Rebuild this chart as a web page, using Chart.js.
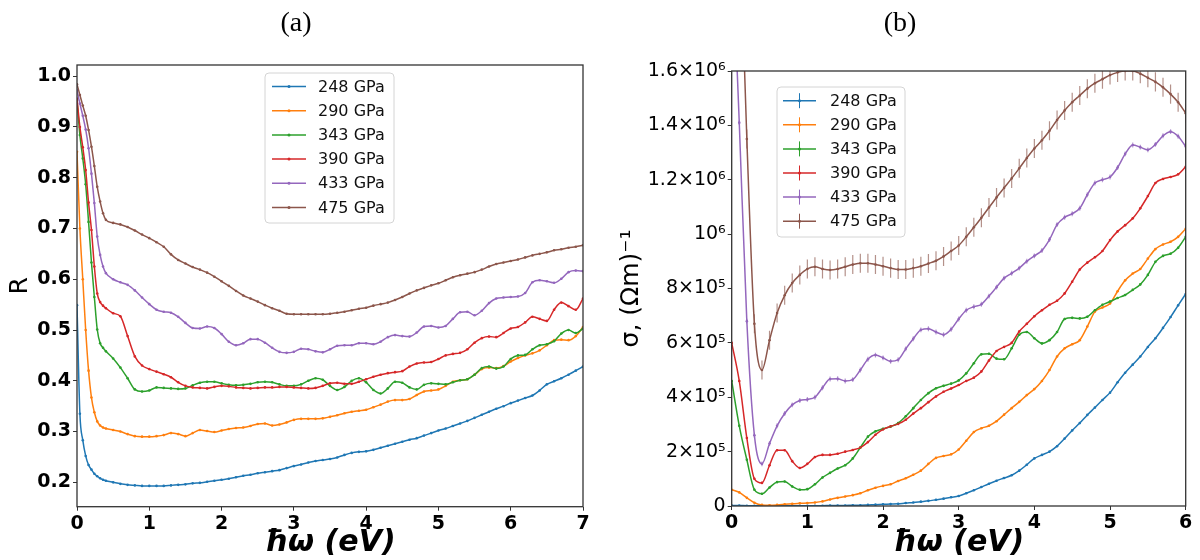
<!DOCTYPE html>
<html>
<head>
<meta charset="utf-8">
<script src="https://cdn.jsdelivr.net/npm/chart.js@4"></script>
<style>
  html, body { margin: 0; padding: 0; background: #fff; }
  #wrap { position: relative; width: 1200px; height: 560px; }
  .panel { position: absolute; top: 0; width: 600px; height: 560px; }
</style>
</head>
<body>
<div id="wrap">
  <div class="panel" style="left:0"><canvas id="chartA" width="600" height="560"></canvas></div>
  <div class="panel" style="left:600px"><canvas id="chartB" width="600" height="560"></canvas></div>
</div>
<script>
// ---- data ----
const pressures = ['248 GPa', '290 GPa', '343 GPa', '390 GPa', '433 GPa', '475 GPa'];
const colors = ['#1f77b4', '#ff7f0e', '#2ca02c', '#d62728', '#9467bd', '#8c564b'];

// panel (a): reflectivity R vs photon energy (eV)
const energyA = [0, 0.04, 0.08, 0.12, 0.16, 0.2, 0.24, 0.28, 0.32, 0.36, 0.4,
  0.5, 0.6, 0.7, 0.8, 0.9, 1.0, 1.1, 1.2, 1.3, 1.4,
  1.5, 1.6, 1.7, 1.8, 1.9, 2.0, 2.1, 2.2, 2.3, 2.4,
  2.5, 2.6, 2.7, 2.8, 2.9, 3.0, 3.1, 3.2, 3.3, 3.4,
  3.5, 3.6, 3.7, 3.8, 3.9, 4.0, 4.1, 4.2, 4.3, 4.4,
  4.5, 4.6, 4.7, 4.8, 4.9, 5.0, 5.1, 5.2, 5.3, 5.4,
  5.5, 5.6, 5.7, 5.8, 5.9, 6.0, 6.1, 6.2, 6.3, 6.4,
  6.5, 6.6, 6.7, 6.8, 6.9, 7.0];

const r248 = [0.549, 0.335, 0.283, 0.252, 0.234, 0.225, 0.217, 0.212, 0.208, 0.205, 0.203,
  0.200, 0.197, 0.195, 0.194, 0.193, 0.193, 0.193, 0.193, 0.194, 0.195,
  0.196, 0.198, 0.199, 0.201, 0.203, 0.205, 0.207, 0.210, 0.213, 0.215,
  0.218, 0.220, 0.222, 0.224, 0.228, 0.232, 0.235, 0.239, 0.242, 0.244,
  0.246, 0.249, 0.254, 0.258, 0.260, 0.261, 0.264, 0.268, 0.272, 0.276,
  0.280, 0.284, 0.287, 0.292, 0.297, 0.302, 0.306, 0.311, 0.316, 0.321,
  0.327, 0.333, 0.339, 0.345, 0.350, 0.356, 0.361, 0.366, 0.371, 0.381,
  0.393, 0.399, 0.405, 0.412, 0.420, 0.428];
const r290 = [0.851, 0.700, 0.600, 0.500, 0.420, 0.367, 0.338, 0.320, 0.312, 0.308, 0.306,
  0.303, 0.300, 0.295, 0.291, 0.290, 0.290, 0.291, 0.293, 0.297, 0.295,
  0.291, 0.297, 0.303, 0.301, 0.299, 0.302, 0.305, 0.307, 0.308, 0.311,
  0.315, 0.316, 0.312, 0.314, 0.318, 0.323, 0.325, 0.325, 0.325, 0.326,
  0.329, 0.332, 0.336, 0.339, 0.341, 0.343, 0.348, 0.353, 0.359, 0.362,
  0.362, 0.364, 0.372, 0.379, 0.381, 0.383, 0.390, 0.398, 0.401, 0.403,
  0.412, 0.423, 0.426, 0.425, 0.429, 0.438, 0.445, 0.450, 0.454, 0.460,
  0.470, 0.480, 0.481, 0.480, 0.488, 0.506];
const r343 = [0.953, 0.884, 0.838, 0.787, 0.713, 0.633, 0.565, 0.501, 0.474, 0.465, 0.458,
  0.444, 0.426, 0.405, 0.383, 0.379, 0.381, 0.387, 0.386, 0.385, 0.384,
  0.385, 0.391, 0.396, 0.398, 0.398, 0.395, 0.392, 0.391, 0.392, 0.394,
  0.397, 0.398, 0.397, 0.393, 0.390, 0.390, 0.393, 0.400, 0.405, 0.402,
  0.390, 0.382, 0.388, 0.400, 0.405, 0.397, 0.382, 0.375, 0.385, 0.398,
  0.396, 0.387, 0.383, 0.392, 0.395, 0.394, 0.393, 0.397, 0.401, 0.403,
  0.412, 0.425, 0.428, 0.424, 0.428, 0.443, 0.450, 0.451, 0.462, 0.470,
  0.472, 0.478, 0.493, 0.500, 0.494, 0.503];
const r390 = [0.956, 0.900, 0.860, 0.815, 0.751, 0.697, 0.625, 0.572, 0.555, 0.548, 0.543,
  0.533, 0.527, 0.488, 0.448, 0.430, 0.423, 0.418, 0.413, 0.407, 0.397,
  0.390, 0.387, 0.386, 0.385, 0.388, 0.390, 0.389, 0.387, 0.386, 0.385,
  0.386, 0.387, 0.387, 0.388, 0.388, 0.387, 0.386, 0.385, 0.386, 0.390,
  0.395, 0.396, 0.394, 0.394, 0.398, 0.403, 0.408, 0.412, 0.415, 0.417,
  0.419, 0.428, 0.434, 0.436, 0.437, 0.443, 0.450, 0.453, 0.455, 0.462,
  0.475, 0.484, 0.487, 0.486, 0.494, 0.503, 0.506, 0.515, 0.526, 0.522,
  0.518, 0.540, 0.554, 0.547, 0.540, 0.562];
const r433 = [0.972, 0.946, 0.922, 0.895, 0.858, 0.808, 0.750, 0.684, 0.648, 0.625, 0.612,
  0.600, 0.594, 0.589, 0.578, 0.564, 0.551, 0.540, 0.536, 0.534, 0.526,
  0.514, 0.504, 0.503, 0.507, 0.504, 0.492, 0.477, 0.470, 0.474, 0.482,
  0.482, 0.475, 0.465, 0.457, 0.455, 0.457, 0.463, 0.462, 0.458, 0.456,
  0.462, 0.469, 0.470, 0.470, 0.474, 0.474, 0.472, 0.477, 0.486, 0.490,
  0.488, 0.487, 0.495, 0.507, 0.508, 0.505, 0.508, 0.522, 0.535, 0.536,
  0.529, 0.538, 0.553, 0.562, 0.564, 0.565, 0.566, 0.573, 0.594, 0.598,
  0.596, 0.593, 0.601, 0.614, 0.617, 0.616];
const r475 = [0.984, 0.963, 0.942, 0.922, 0.894, 0.861, 0.823, 0.782, 0.753, 0.730, 0.717,
  0.711, 0.708, 0.703, 0.696, 0.688, 0.681, 0.673, 0.664, 0.649, 0.638,
  0.631, 0.624, 0.619, 0.613, 0.605, 0.596, 0.587, 0.577, 0.568, 0.562,
  0.556, 0.549, 0.543, 0.538, 0.532, 0.531, 0.531, 0.531, 0.531, 0.531,
  0.532, 0.534, 0.536, 0.539, 0.542, 0.544, 0.548, 0.551, 0.554, 0.559,
  0.565, 0.572, 0.578, 0.583, 0.588, 0.592, 0.598, 0.604, 0.608, 0.611,
  0.614, 0.619, 0.625, 0.630, 0.633, 0.636, 0.639, 0.643, 0.647, 0.650,
  0.653, 0.657, 0.659, 0.662, 0.664, 0.667];

// panel (b): conductivity sigma, in units of 1e5 (Ohm m)^-1
const energyB = [0, 0.1, 0.2, 0.3, 0.4, 0.5, 0.6, 0.7, 0.8, 0.9,
  1.0, 1.1, 1.2, 1.3, 1.4, 1.5, 1.6, 1.7, 1.8, 1.9,
  2.0, 2.1, 2.2, 2.3, 2.4, 2.5, 2.6, 2.7, 2.8, 2.9,
  3.0, 3.1, 3.2, 3.3, 3.4, 3.5, 3.6, 3.7, 3.8, 3.9,
  4.0, 4.1, 4.2, 4.3, 4.4, 4.5, 4.6, 4.7, 4.8, 4.9,
  5.0, 5.1, 5.2, 5.3, 5.4, 5.5, 5.6, 5.7, 5.8, 5.9,
  6.0];

const s248 = [0.02, 0.02, 0.01, 0.01, 0.01, 0.01, 0.01, 0.01, 0.01, 0.01,
  0.01, 0.01, 0.01, 0.02, 0.02, 0.02, 0.03, 0.03, 0.04, 0.05,
  0.06, 0.07, 0.08, 0.11, 0.13, 0.16, 0.19, 0.23, 0.27, 0.32,
  0.37, 0.47, 0.58, 0.70, 0.82, 0.93, 1.03, 1.13, 1.30, 1.52,
  1.75, 1.88, 2.00, 2.20, 2.48, 2.78, 3.05, 3.35, 3.62, 3.90,
  4.17, 4.55, 4.90, 5.20, 5.50, 5.85, 6.17, 6.55, 6.95, 7.38,
  7.80];
const s290 = [0.60, 0.50, 0.30, 0.12, 0.04, 0.03, 0.04, 0.06, 0.08, 0.10,
  0.11, 0.13, 0.17, 0.24, 0.30, 0.35, 0.40, 0.47, 0.58, 0.67,
  0.74, 0.80, 0.92, 1.02, 1.15, 1.30, 1.55, 1.77, 1.84, 1.90,
  2.08, 2.40, 2.72, 2.86, 2.95, 3.12, 3.36, 3.60, 3.83, 4.08,
  4.30, 4.60, 5.00, 5.50, 5.80, 5.95, 6.10, 6.60, 7.15, 7.30,
  7.45, 7.90, 8.30, 8.55, 8.72, 9.10, 9.45, 9.62, 9.72, 9.90,
  10.20];
const s343 = [4.60, 2.95, 1.70, 0.60, 0.45, 0.68, 0.88, 0.90, 0.72, 0.60,
  0.62, 0.80, 1.05, 1.22, 1.38, 1.50, 1.75, 2.15, 2.55, 2.75,
  2.84, 2.92, 3.05, 3.30, 3.60, 3.90, 4.15, 4.33, 4.42, 4.50,
  4.62, 4.88, 5.25, 5.58, 5.60, 5.42, 5.40, 5.80, 6.30, 6.40,
  6.17, 5.98, 6.10, 6.40, 6.88, 6.92, 6.90, 6.96, 7.20, 7.40,
  7.52, 7.65, 7.76, 7.95, 8.15, 8.50, 8.98, 9.20, 9.28, 9.50,
  9.90];
const s390 = [6.00, 4.60, 2.50, 1.00, 0.85, 1.50, 2.05, 2.05, 1.65, 1.40,
  1.55, 1.80, 1.88, 1.88, 1.92, 2.00, 2.06, 2.15, 2.35, 2.62,
  2.82, 2.93, 3.02, 3.17, 3.40, 3.60, 3.82, 4.03, 4.20, 4.32,
  4.45, 4.60, 4.72, 4.95, 5.35, 5.70, 5.85, 6.00, 6.42, 6.70,
  6.98, 7.20, 7.40, 7.55, 7.82, 8.25, 8.70, 8.95, 9.15, 9.38,
  9.78, 10.10, 10.33, 10.58, 10.95, 11.40, 11.88, 12.03, 12.10, 12.20,
  12.48];
const s433 = [21.0, 14.1, 6.80, 2.60, 1.55, 2.30, 2.95, 3.40, 3.72, 3.88,
  3.92, 4.00, 4.35, 4.67, 4.68, 4.60, 4.65, 5.00, 5.40, 5.55,
  5.45, 5.32, 5.38, 5.78, 6.15, 6.48, 6.52, 6.40, 6.30, 6.50,
  6.88, 7.20, 7.33, 7.42, 7.72, 8.05, 8.38, 8.56, 8.75, 9.00,
  9.20, 9.40, 9.80, 10.35, 10.62, 10.75, 10.95, 11.45, 11.88, 12.00,
  12.10, 12.45, 12.95, 13.28, 13.20, 13.10, 13.30, 13.62, 13.77, 13.60,
  13.22];
const s475 = [30.0, 22.0, 13.5, 6.70, 5.00, 6.10, 7.10, 7.75, 8.20, 8.50,
  8.72, 8.80, 8.72, 8.68, 8.72, 8.80, 8.88, 8.93, 8.93, 8.88,
  8.82, 8.75, 8.70, 8.70, 8.75, 8.82, 8.92, 9.02, 9.18, 9.38,
  9.58, 9.90, 10.25, 10.60, 10.98, 11.35, 11.70, 12.05, 12.42, 12.80,
  13.15, 13.45, 13.80, 14.20, 14.55, 14.85, 15.10, 15.35, 15.55, 15.70,
  15.85, 15.95, 16.00, 16.00, 15.90, 15.75, 15.60, 15.40, 15.15, 14.85,
  14.45];
// error bar half-heights per series, same units
const sigmaErr = [0.02, 0.02, 0.04, 0.04, 0.09, 0.35];

// ticks
const xTicksA = [0, 1, 2, 3, 4, 5, 6, 7];
const yTicksA = [0.2, 0.3, 0.4, 0.5, 0.6, 0.7, 0.8, 0.9, 1.0];
const xTicksB = [0, 1, 2, 3, 4, 5, 6];
const yTicksB = [0, 2, 4, 6, 8, 10, 12, 14, 16];
const yTickLabelsB = ['0', '2×10⁵', '4×10⁵', '6×10⁵', '8×10⁵', '10⁶', '1.2×10⁶', '1.4×10⁶', '1.6×10⁶'];

// ---- drawing ----
const FONT = '"DejaVu Sans", sans-serif';

function makeSets(xs, series) {
  return series.map((ys, i) => ({
    label: pressures[i],
    data: xs.map((x, j) => ({ x: x, y: ys[j] })),
    borderColor: colors[i],
    backgroundColor: colors[i],
    borderWidth: 1.5,
    pointRadius: 1.3,
    pointHoverRadius: 1.3,
    pointBorderWidth: 0,
    cubicInterpolationMode: 'monotone',
    order: series.length - 1 - i
  }));
}

// vertical error bars for panel (b)
const errorBars = {
  id: 'errorBars',
  afterDatasetsDraw(chart, args, opts) {
    if (!opts.err) return;
    const ctx = chart.ctx, a = chart.chartArea;
    const xs = chart.scales.x, ys = chart.scales.y;
    ctx.save();
    ctx.beginPath();
    ctx.rect(a.left, a.top, a.right - a.left, a.bottom - a.top);
    ctx.clip();
    chart.data.datasets.forEach((ds, i) => {
      const e = opts.err[i];
      ctx.strokeStyle = ds.borderColor;
      ctx.globalAlpha = 0.65;
      ctx.lineWidth = 1.2;
      ds.data.forEach(p => {
        const px = xs.getPixelForValue(p.x);
        ctx.beginPath();
        ctx.moveTo(px, ys.getPixelForValue(p.y - e));
        ctx.lineTo(px, ys.getPixelForValue(p.y + e));
        ctx.stroke();
      });
    });
    ctx.restore();
  }
};

// frame, legend and text labels
const decor = {
  id: 'decor',
  afterDraw(chart, args, o) {
    const ctx = chart.ctx, a = chart.chartArea;
    ctx.save();
    ctx.strokeStyle = '#333';
    ctx.lineWidth = 1.3;
    ctx.strokeRect(a.left, a.top, a.right - a.left, a.bottom - a.top);

    const L = o.legend;
    ctx.fillStyle = 'rgba(255,255,255,0.85)';
    ctx.strokeStyle = '#d4d4d4';
    ctx.lineWidth = 1;
    ctx.beginPath();
    ctx.roundRect(L.x, L.y, L.w, L.h, 4);
    ctx.fill();
    ctx.stroke();
    ctx.font = '16px ' + FONT;
    ctx.textBaseline = 'middle';
    ctx.textAlign = 'left';
    chart.data.datasets.forEach((ds, i) => {
      const y = L.row0 + i * L.dy;
      const mid = (L.x1 + L.x2) / 2;
      ctx.strokeStyle = ds.borderColor;
      ctx.fillStyle = ds.borderColor;
      ctx.lineWidth = 1.5;
      ctx.beginPath();
      ctx.moveTo(L.x1, y);
      ctx.lineTo(L.x2, y);
      ctx.stroke();
      if (o.errLegend) {
        ctx.lineWidth = 1;
        ctx.beginPath();
        ctx.moveTo(mid, y - 7.5);
        ctx.lineTo(mid, y + 7.5);
        ctx.stroke();
      }
      ctx.beginPath();
      ctx.arc(mid, y, 1.5, 0, Math.PI * 2);
      ctx.fill();
      ctx.fillStyle = '#111';
      ctx.fillText(ds.label, L.tx, y + 1);
    });

    ctx.fillStyle = '#000';
    ctx.textAlign = 'center';
    ctx.textBaseline = 'alphabetic';
    ctx.font = '28px "Liberation Serif", serif';
    ctx.fillText(o.title, o.titleX, 31);
    ctx.font = 'italic bold 30px ' + FONT;
    ctx.fillText('ħω (eV)', (a.left + a.right) / 2, 551);
    ctx.translate(o.yTitleX, (a.top + a.bottom) / 2);
    ctx.rotate(-Math.PI / 2);
    ctx.textBaseline = 'middle';
    ctx.font = o.yTitleFont;
    ctx.fillText(o.yTitle, 0, 0);
    ctx.restore();
  }
};

function axisGrid() {
  return { display: true, drawOnChartArea: false, drawTicks: true, tickLength: 4, color: '#333', lineWidth: 1 };
}

const tickFontBold = { family: FONT, size: 19, weight: 'bold' };

new Chart(document.getElementById('chartA'), {
  type: 'line',
  data: { datasets: makeSets(energyA, [r248, r290, r343, r390, r433, r475]) },
  options: {
    responsive: false,
    animation: false,
    layout: { padding: { top: 65, right: 17, left: 0, bottom: 0 } },
    plugins: {
      legend: { display: false },
      tooltip: { enabled: false },
      decor: {
        title: '(a)', titleX: 296, yTitle: 'R', yTitleX: 20, yTitleFont: '25px ' + FONT,
        legend: { x: 265, y: 73, w: 129, h: 150, row0: 86.5, dy: 24.2, x1: 272, x2: 306, tx: 318 }
      }
    },
    scales: {
      x: {
        type: 'linear', min: 0, max: 7,
        afterBuildTicks: s => { s.ticks = xTicksA.map(v => ({ value: v })); },
        afterFit: s => { s.height = 53.3; },
        grid: axisGrid(), border: { display: false },
        ticks: { font: tickFontBold, color: '#000', padding: 2, autoSkip: false, maxRotation: 0 }
      },
      y: {
        type: 'linear', min: 0.152, max: 1.022,
        afterBuildTicks: s => { s.ticks = yTicksA.map(v => ({ value: v })); },
        afterFit: s => { s.width = 77; },
        grid: axisGrid(), border: { display: false },
        ticks: { font: tickFontBold, color: '#000', padding: 2, autoSkip: false, callback: v => v.toFixed(1) }
      }
    }
  },
  plugins: [decor]
});

new Chart(document.getElementById('chartB'), {
  type: 'line',
  data: { datasets: makeSets(energyB, [s248, s290, s343, s390, s433, s475]) },
  options: {
    responsive: false,
    animation: false,
    layout: { padding: { top: 71, right: 14.3, left: 0, bottom: 0 } },
    plugins: {
      legend: { display: false },
      tooltip: { enabled: false },
      errorBars: { err: sigmaErr },
      decor: {
        title: '(b)', titleX: 300, yTitle: 'σ, (Ωm)⁻¹', yTitleX: 31, yTitleFont: '25px ' + FONT, errLegend: true,
        legend: { x: 177, y: 87, w: 128, h: 150, row0: 100.7, dy: 24.1, x1: 183, x2: 216, tx: 230 }
      }
    },
    scales: {
      x: {
        type: 'linear', min: 0, max: 6,
        afterBuildTicks: s => { s.ticks = xTicksB.map(v => ({ value: v })); },
        afterFit: s => { s.height = 54; },
        grid: axisGrid(), border: { display: false },
        ticks: { font: tickFontBold, color: '#000', padding: 2, autoSkip: false, maxRotation: 0 }
      },
      y: {
        type: 'linear', min: 0, max: 16,
        afterBuildTicks: s => { s.ticks = yTicksB.map(v => ({ value: v })); },
        afterFit: s => { s.width = 131.7; },
        grid: axisGrid(), border: { display: false },
        ticks: {
          font: { family: FONT, size: 19 }, color: '#000', padding: 2, autoSkip: false,
          callback: (v, i) => yTickLabelsB[i]
        }
      }
    }
  },
  plugins: [decor, errorBars]
});
</script>
</body>
</html>
